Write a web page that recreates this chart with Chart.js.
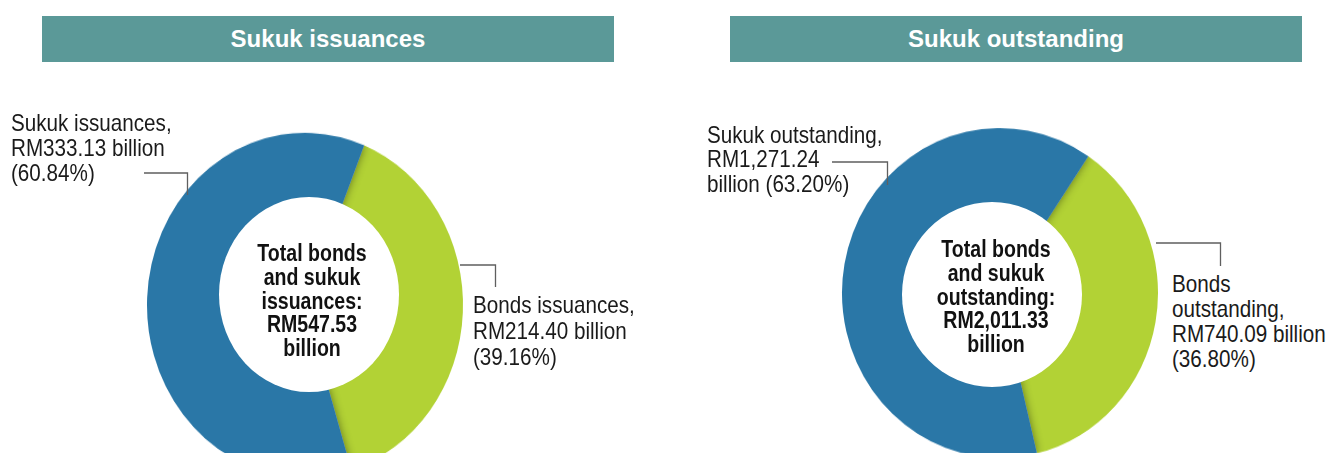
<!DOCTYPE html>
<html>
<head>
<meta charset="utf-8">
<script src="https://cdn.jsdelivr.net/npm/chart.js@4.4.1/dist/chart.umd.min.js"></script>
<style>
  html, body { margin: 0; padding: 0; background: #ffffff; }
  body { width: 1329px; height: 453px; position: relative; overflow: hidden; }
  .bar { position: absolute; top: 16px; height: 46px; width: 572px; background: #5b9998;
         color: #ffffff; font-family: "Liberation Sans", Arial, sans-serif; font-weight: bold;
         font-size: 24px; line-height: 46px; text-align: center; }
  .wrap { position: absolute; width: 340px; height: 340px; transform-origin: 50% 50%; }
  .hole { position: absolute; background: #ffffff; border-radius: 50%; }
  .lbl { position: absolute; font-family: "Liberation Sans", Arial, sans-serif;
         font-size: 24px; line-height: 25px; color: #1a1a1a; white-space: nowrap;
         transform: scaleX(0.86); transform-origin: 0 0; }
  .ctr { position: absolute; width: 200px; text-align: center;
         font-family: "Liberation Sans", Arial, sans-serif;
         font-weight: bold; font-size: 23px; line-height: 23.8px; color: #111; white-space: nowrap;
         transform: scaleX(0.85); transform-origin: 50% 0; }
  svg { position: absolute; left: 0; top: 0; }
</style>
</head>
<body>
<div class="bar" id="bar1" style="left:42px;"></div>
<div class="bar" id="bar2" style="left:730px;"></div>

<div class="wrap" style="left:135px; top:135px; transform: scaleY(1.09);"><canvas id="c1" width="340" height="340"></canvas></div>
<div class="wrap" style="left:830px; top:123px; transform: scaleY(1.044);"><canvas id="c2" width="340" height="340"></canvas></div>

<div class="hole" style="left:219px; top:197px; width:180px; height:195px;"></div>
<div class="hole" style="left:902px; top:202px; width:180px; height:185px;"></div>

<div class="ctr" id="ctr1" style="left:212px; top:242px;"></div>
<div class="ctr" id="ctr2" style="left:896px; top:238px;"></div>

<div class="lbl" id="l1s" style="left:11px; top:110px;"></div>
<div class="lbl" id="l1b" style="left:473px; top:292px; line-height:25.8px;"></div>
<div class="lbl" id="l2s" style="left:707px; top:122.5px; line-height:24.5px;"></div>
<div class="lbl" id="l2b" style="left:1172px; top:272.4px; line-height:24.7px;"></div>

<svg width="1329" height="453">
  <polyline points="144,173 187.5,173 187.5,195" fill="none" stroke="#5f5f5f" stroke-width="1.3"/>
  <polyline points="460,265 495.5,265 495.5,287" fill="none" stroke="#5f5f5f" stroke-width="1.3"/>
  <polyline points="832,162 887.5,162 887.5,185" fill="none" stroke="#5f5f5f" stroke-width="1.3"/>
  <polyline points="1156,243 1220.5,243 1220.5,266" fill="none" stroke="#5f5f5f" stroke-width="1.3"/>
</svg>

<script>
// ---- data ----
const panelTitles = ['Sukuk issuances', 'Sukuk outstanding'];

const issuanceCategories = ['Bonds issuances', 'Sukuk issuances'];
const issuanceValues = [214.40, 333.13];           // RM billion
const issuancePercents = [39.16, 60.84];
const issuanceTotal = 547.53;

const outstandingCategories = ['Bonds outstanding', 'Sukuk outstanding'];
const outstandingValues = [740.09, 1271.24];       // RM billion
const outstandingPercents = [36.80, 63.20];
const outstandingTotal = 2011.33;

const issuanceLabelLines = {
  sukuk: ['Sukuk issuances,', 'RM333.13 billion', '(60.84%)'],
  bonds: ['Bonds issuances,', 'RM214.40 billion', '(39.16%)']
};
const outstandingLabelLines = {
  sukuk: ['Sukuk outstanding,', 'RM1,271.24', 'billion (63.20%)'],
  bonds: ['Bonds', 'outstanding,', 'RM740.09 billion', '(36.80%)']
};
const centerLines1 = ['Total bonds', 'and sukuk', 'issuances:', 'RM547.53', 'billion'];
const centerLines2 = ['Total bonds', 'and sukuk', 'outstanding:', 'RM2,011.33', 'billion'];

const colors = ['#b2d235', '#2a77a7'];   // bonds (green), sukuk (blue)

// ---- text ----
document.getElementById('bar1').textContent = panelTitles[0];
document.getElementById('bar2').textContent = panelTitles[1];
function setLines(id, lines) {
  const el = document.getElementById(id);
  lines.forEach((t, i) => { if (i) el.appendChild(document.createElement('br')); el.appendChild(document.createTextNode(t)); });
}
setLines('l1s', issuanceLabelLines.sukuk);
setLines('l1b', issuanceLabelLines.bonds);
setLines('l2s', outstandingLabelLines.sukuk);
setLines('l2b', outstandingLabelLines.bonds);
setLines('ctr1', centerLines1);
setLines('ctr2', centerLines2);

// shadow of the blue slice cast onto the green slice
const shadowPlugin = {
  id: 'sliceShadow',
  afterDatasetsDraw(chart) {
    const meta = chart.getDatasetMeta(0);
    const g = meta.data[0].getProps(['x','y','startAngle','endAngle','innerRadius','outerRadius'], true);
    const b = meta.data[1].getProps(['x','y','startAngle','endAngle','innerRadius','outerRadius'], true);
    const ctx = chart.ctx;
    ctx.save();
    ctx.beginPath();
    ctx.arc(g.x, g.y, g.outerRadius, g.startAngle, g.endAngle);
    ctx.arc(g.x, g.y, g.innerRadius, g.endAngle, g.startAngle, true);
    ctx.closePath();
    ctx.clip();
    ctx.shadowColor = 'rgba(0,0,0,0.45)';
    ctx.shadowBlur = 9;
    ctx.fillStyle = colors[1];
    ctx.beginPath();
    ctx.arc(b.x, b.y, b.outerRadius, b.startAngle, b.endAngle);
    ctx.arc(b.x, b.y, b.innerRadius, b.endAngle, b.startAngle, true);
    ctx.closePath();
    ctx.fill();
    ctx.restore();
  }
};

function makeChart(id, cats, vals, rotation) {
  return new Chart(document.getElementById(id), {
    type: 'doughnut',
    data: { labels: cats, datasets: [{ data: vals, backgroundColor: colors, borderWidth: 0, hoverOffset: 0 }] },
    options: {
      responsive: false,
      animation: false,
      devicePixelRatio: 1,
      rotation: rotation,
      cutout: '48%',
      layout: { padding: 12 },
      plugins: { legend: { display: false }, tooltip: { enabled: false } }
    },
    plugins: [shadowPlugin]
  });
}
makeChart('c1', issuanceCategories, issuanceValues, 22);
makeChart('c2', outstandingCategories, outstandingValues, 34);
</script>
</body>
</html>
